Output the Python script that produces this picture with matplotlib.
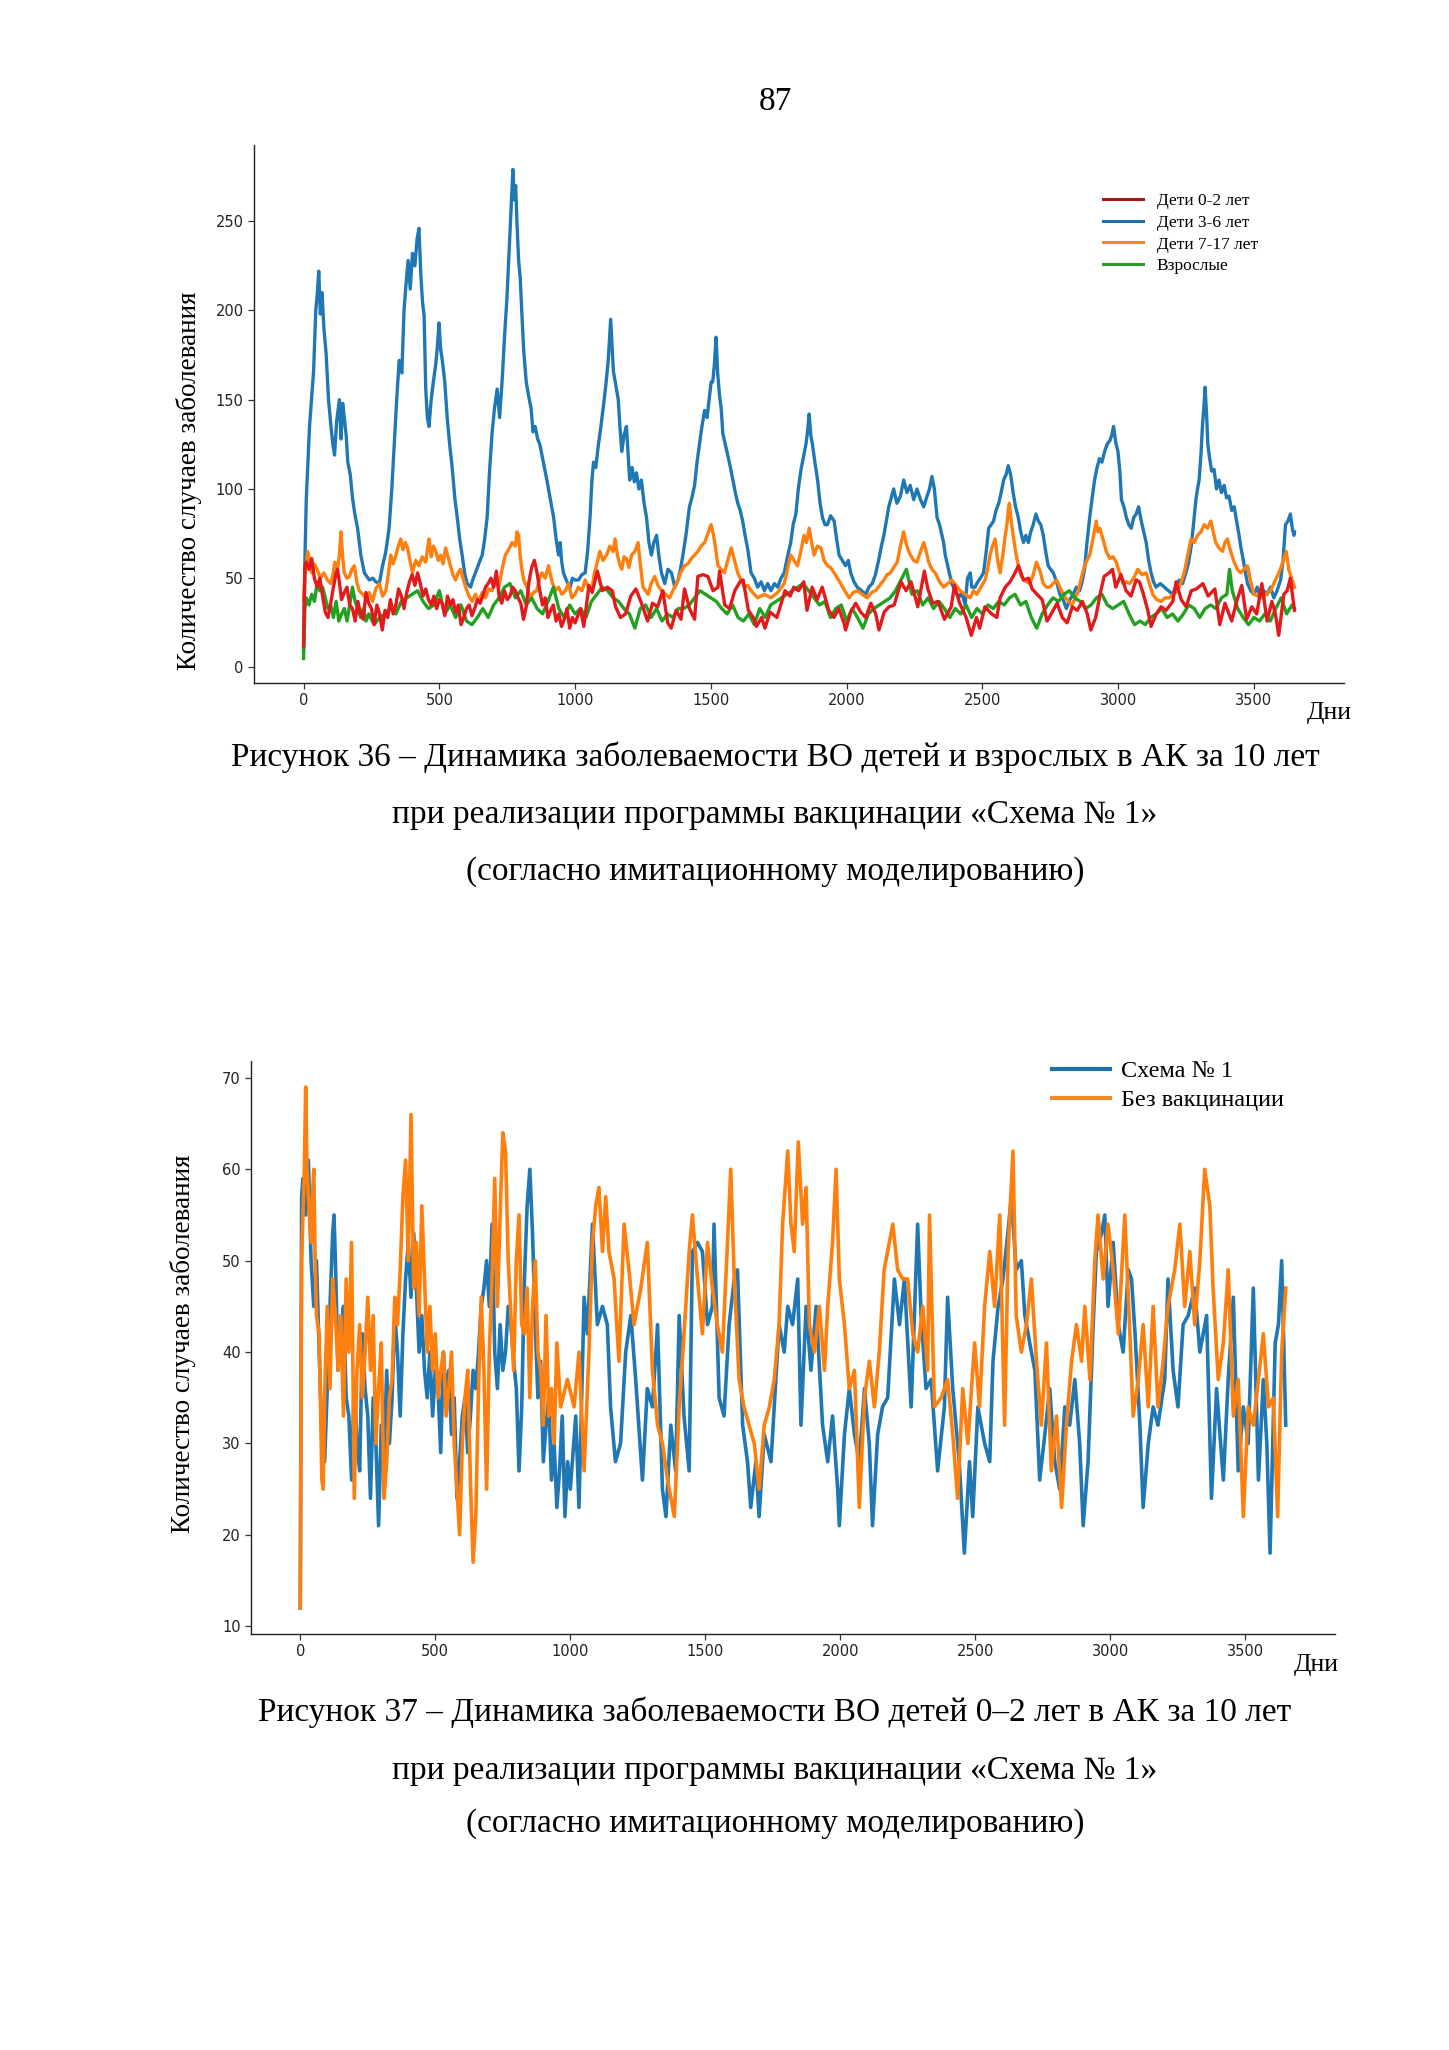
import matplotlib
matplotlib.use("Agg")
import matplotlib.pyplot as plt
from matplotlib.lines import Line2D

SERIF = "Liberation Serif"

# Дети 0-2 лет, схема № 1 (same series in both charts)
d_02 = [0, 5, 10, 20, 30, 40, 50, 60, 70, 80, 90, 100, 110, 120, 125, 130, 140, 150, 160, 170,
        180, 190, 200, 210, 220, 230, 240, 250, 260, 270, 280, 290, 300, 310, 320, 330, 340, 350,
        360, 370, 380, 390, 400, 410, 420, 430, 440, 450, 460, 470, 480, 490, 500, 510, 520, 530,
        540, 550, 560, 570, 580, 590, 600, 610, 620, 630, 640, 650, 660, 670, 680, 690, 700, 710,
        720, 730, 740, 750, 760, 770, 780, 790, 800, 810, 820, 830, 840, 850, 860, 870, 880, 890,
        900, 910, 920, 930, 940, 950, 960, 970, 980, 990, 1000, 1020, 1032, 1051, 1063, 1082,
        1100, 1119, 1137, 1149, 1167, 1186, 1205, 1224, 1242, 1267, 1285, 1304, 1323, 1341, 1354,
        1372, 1390, 1403, 1421, 1440, 1452, 1471, 1489, 1508, 1526, 1532, 1551, 1569, 1588, 1607,
        1619, 1638, 1656, 1668, 1687, 1699, 1718, 1743, 1755, 1773, 1792, 1805, 1823, 1842, 1854,
        1873, 1891, 1910, 1934, 1953, 1971, 1990, 1996, 2015, 2033, 2052, 2070, 2089, 2107, 2119,
        2138, 2156, 2175, 2200, 2219, 2237, 2262, 2280, 2286, 2299, 2317, 2336, 2360, 2385, 2397,
        2416, 2440, 2459, 2478, 2490, 2509, 2534, 2553, 2565, 2584, 2602, 2620, 2633, 2651, 2670,
        2683, 2701, 2720, 2738, 2757, 2775, 2794, 2812, 2831, 2849, 2868, 2886, 2899, 2917, 2936,
        2948, 2967, 2979, 2991, 3010, 3029, 3047, 3066, 3078, 3091, 3109, 3121, 3140, 3158, 3176,
        3201, 3213, 3232, 3250, 3269, 3288, 3312, 3331, 3356, 3374, 3393, 3418, 3436, 3455, 3473,
        3492, 3510, 3529, 3548, 3566, 3579, 3591, 3610, 3622, 3634, 3649]
v_02 = [12, 57, 59, 55, 61, 50, 45, 50, 40, 31, 28, 36, 45, 53, 55, 50, 38, 42, 45, 35,
        33, 26, 37, 30, 27, 42, 36, 33, 24, 35, 30, 21, 32, 28, 38, 30, 35, 44,
        40, 33, 42, 48, 52, 46, 53, 47, 40, 44, 38, 35, 40, 33, 38, 36, 29, 40,
        35, 38, 31, 35, 24, 28, 33, 35, 29, 33, 38, 36, 40, 45, 47, 50, 45, 54,
        40, 36, 43, 38, 40, 45, 43, 39, 36, 27, 34, 48, 56, 60, 53, 43, 35, 39,
        28, 32, 35, 26, 30, 23, 27, 33, 22, 28, 25, 33, 23, 46, 42, 54,
        43, 45, 43, 34, 28, 30, 40, 44, 37, 26, 36, 34, 43, 25, 22,
        32, 27, 44, 33, 27, 51, 52, 51, 43, 45, 54, 35, 33, 43, 48,
        49, 32, 28, 23, 28, 22, 31, 28, 34, 43, 40, 45, 43, 48, 32,
        45, 38, 45, 32, 28, 33, 25, 21, 31, 36, 31, 28, 36, 30, 21,
        31, 34, 35, 48, 43, 48, 34, 49, 54, 44, 36, 37, 27, 34, 46,
        36, 28, 18, 28, 22, 34, 30, 28, 39, 45, 48, 53, 57, 49, 50,
        44, 41, 38, 26, 31, 36, 28, 25, 34, 32, 37, 30, 21, 28, 43,
        51, 53, 55, 45, 52, 43, 40, 49, 48, 42, 32, 23, 30, 34, 32,
        37, 48, 38, 34, 43, 44, 47, 40, 44, 24, 36, 26, 37, 46, 27,
        34, 30, 47, 26, 37, 30, 18, 41, 43, 50, 32]

# Без вакцинации, дети 0-2 лет
d_novac = [0, 5, 10, 15, 20, 25, 30, 40, 45, 50, 55, 60, 70, 80, 85, 90, 100, 110, 120, 130,
           140, 150, 160, 170, 180, 190, 200, 210, 220, 230, 240, 250, 260, 270, 280, 290, 300,
           310, 320, 330, 340, 350, 360, 370, 380, 390, 400, 410, 420, 430, 440, 450, 460, 470,
           480, 490, 500, 510, 520, 530, 540, 550, 560, 570, 580, 590, 600, 610, 620, 630, 640,
           650, 660, 670, 680, 690, 700, 710, 720, 730, 740, 750, 760, 770, 780, 790, 800, 810,
           820, 830, 840, 850, 860, 870, 880, 890, 900, 910, 920, 930, 940, 950, 964, 989, 1014,
           1032, 1051, 1069, 1082, 1094, 1106, 1119, 1131, 1143, 1162, 1180, 1199, 1217, 1236,
           1261, 1285, 1304, 1323, 1341, 1360, 1385, 1403, 1421, 1440, 1452, 1471, 1489, 1508,
           1526, 1544, 1563, 1582, 1594, 1607, 1625, 1643, 1662, 1681, 1699, 1718, 1737, 1755,
           1773, 1786, 1805, 1817, 1829, 1844, 1860, 1873, 1885, 1904, 1922, 1941, 1953, 1971,
           1984, 1996, 2015, 2033, 2052, 2070, 2089, 2107, 2126, 2144, 2162, 2181, 2194, 2212,
           2231, 2249, 2268, 2286, 2305, 2323, 2330, 2348, 2373, 2397, 2416, 2434, 2453, 2472,
           2497, 2515, 2534, 2553, 2571, 2590, 2608, 2621, 2639, 2651, 2670, 2689, 2707, 2726,
           2744, 2763, 2781, 2800, 2819, 2837, 2856, 2874, 2893, 2905, 2924, 2942, 2954, 2973,
           2991, 3010, 3029, 3053, 3072, 3084, 3103, 3121, 3140, 3158, 3176, 3195, 3213, 3238,
           3257, 3275, 3294, 3312, 3331, 3349, 3368, 3380, 3399, 3418, 3436, 3455, 3473, 3492,
           3510, 3529, 3548, 3566, 3585, 3603, 3619, 3634, 3649]
v_novac = [12, 50, 55, 60, 69, 60, 57, 52, 57, 60, 50, 44, 42, 26, 25, 35, 45, 36, 48, 44,
           38, 44, 33, 48, 40, 52, 24, 38, 43, 35, 40, 46, 38, 44, 30, 36, 41,
           24, 28, 35, 37, 46, 43, 49, 57, 61, 50, 66, 47, 52, 44, 56, 48, 40,
           45, 38, 42, 35, 38, 40, 33, 36, 40, 30, 25, 20, 30, 35, 38, 26, 17,
           22, 36, 46, 38, 25, 40, 48, 59, 45, 55, 64, 62, 50, 44, 38, 50, 55,
           43, 42, 47, 35, 45, 50, 40, 38, 32, 44, 33, 36, 30, 41, 34, 37, 34,
           40, 27, 40, 52, 56, 58, 51, 57, 51, 48, 39, 54, 49, 43,
           47, 52, 38, 32, 30, 26, 22, 34, 42, 51, 55, 48, 42, 52,
           47, 43, 40, 52, 60, 48, 37, 34, 32, 30, 25, 32, 34, 37,
           43, 54, 62, 54, 51, 63, 54, 58, 43, 40, 45, 38, 45, 52,
           60, 48, 43, 36, 38, 23, 35, 39, 34, 40, 49, 52, 54, 49,
           48, 48, 42, 40, 45, 38, 55, 34, 35, 37, 31, 24, 36, 30,
           41, 34, 45, 51, 45, 55, 32, 51, 62, 44, 40, 43, 48, 39,
           32, 41, 27, 33, 23, 32, 39, 43, 39, 45, 37, 50, 55, 48,
           54, 49, 42, 55, 42, 33, 37, 43, 34, 45, 34, 39, 45, 49,
           54, 45, 51, 43, 50, 60, 56, 47, 37, 41, 49, 33, 37, 22,
           34, 32, 37, 42, 34, 35, 22, 40, 47]

# Дети 3-6 лет
d_36 = [0, 5, 10, 22, 37, 45, 50, 56, 62, 68, 75, 83, 92, 101, 108, 114, 122, 132, 138, 144,
        150, 157, 163, 172, 181, 190, 199, 211, 224, 242, 255, 266, 279, 291, 303, 315, 325, 334,
        343, 352, 362, 370, 377, 385, 393, 401, 410, 418, 425, 432, 438, 444, 450, 456, 462, 470,
        478, 487, 493, 499, 505, 511, 520, 529, 538, 548, 557, 566, 575, 584, 594, 603, 615, 625,
        633, 645, 658, 667, 676, 685, 694, 703, 713, 722, 731, 740, 749, 756, 762, 767, 771, 776,
        781, 786, 792, 798, 805, 811, 820, 829, 838, 845, 853, 862, 870, 878, 887, 896, 908, 921,
        930, 939, 945, 950, 957, 970, 982, 990, 1000, 1012, 1025, 1037, 1046, 1055, 1062, 1068,
        1076, 1086, 1095, 1104, 1113, 1122, 1127, 1131, 1136, 1141, 1150, 1159, 1165, 1172, 1180,
        1189, 1195, 1201, 1210, 1218, 1226, 1235, 1244, 1254, 1263, 1272, 1281, 1290, 1300, 1309,
        1318, 1330, 1342, 1355, 1367, 1379, 1388, 1397, 1409, 1421, 1430, 1440, 1449, 1458, 1467,
        1477, 1486, 1495, 1501, 1507, 1513, 1519, 1525, 1532, 1538, 1544, 1553, 1562, 1572, 1581,
        1590, 1599, 1608, 1617, 1626, 1636, 1648, 1660, 1672, 1685, 1697, 1709, 1721, 1734, 1746,
        1758, 1770, 1782, 1794, 1803, 1813, 1822, 1832, 1841, 1850, 1856, 1862, 1868, 1874, 1883,
        1893, 1902, 1911, 1920, 1929, 1941, 1954, 1963, 1972, 1984, 1996, 2006, 2015, 2027, 2039,
        2055, 2070, 2082, 2094, 2106, 2119, 2128, 2137, 2146, 2155, 2164, 2173, 2185, 2198, 2210,
        2222, 2234, 2247, 2259, 2272, 2284, 2296, 2305, 2314, 2323, 2333, 2342, 2351, 2357, 2363,
        2375, 2387, 2400, 2412, 2424, 2436, 2445, 2455, 2461, 2473, 2479, 2492, 2504, 2514, 2523,
        2532, 2541, 2550, 2560, 2569, 2578, 2587, 2595, 2604, 2613, 2622, 2632, 2641, 2651, 2660,
        2669, 2678, 2687, 2697, 2706, 2715, 2724, 2733, 2742, 2751, 2761, 2773, 2785, 2797, 2809,
        2822, 2834, 2846, 2858, 2867, 2876, 2885, 2895, 2904, 2913, 2922, 2931, 2940, 2950, 2959,
        2969, 2976, 2983, 2991, 2999, 3006, 3012, 3021, 3030, 3039, 3048, 3057, 3066, 3075, 3085,
        3094, 3103, 3112, 3121, 3130, 3139, 3155, 3170, 3185, 3200, 3212, 3225, 3237, 3249, 3258,
        3268, 3277, 3286, 3292, 3298, 3305, 3310, 3315, 3320, 3326, 3330, 3335, 3344, 3353, 3362,
        3371, 3380, 3390, 3399, 3408, 3418, 3427, 3436, 3445, 3451, 3457, 3467, 3476, 3488, 3500,
        3512, 3524, 3536, 3549, 3561, 3573, 3585, 3598, 3607, 3616, 3625, 3634, 3641, 3647, 3649]
v_36 = [10, 60, 94, 135, 166, 200, 208, 222, 198, 210, 190, 176, 150, 135, 125, 119, 138, 150, 128, 148,
        140, 130, 115, 108, 94, 85, 78, 63, 53, 49, 50, 48, 47, 57, 65, 78, 100, 125,
        150, 172, 165, 200, 214, 228, 212, 232, 225, 240, 246, 220, 205, 197, 156, 140, 135, 150,
        160, 170, 180, 193, 178, 172, 160, 140, 125, 111, 95, 84, 72, 63, 52, 47, 45, 50,
        53, 58, 63, 72, 84, 110, 131, 145, 156, 140, 160, 185, 207, 230, 249, 265, 279, 262,
        270, 249, 228, 218, 195, 177, 160, 152, 145, 132, 135, 128, 125, 119, 112, 105, 95, 84,
        72, 63, 70, 60, 53, 48, 45, 50, 49, 49, 52, 53, 65, 84, 105, 115,
        112, 125, 135, 146, 158, 172, 185, 195, 180, 166, 158, 150, 135, 121, 130,
        135, 120, 105, 112, 104, 109, 100, 105, 92, 84, 70, 63, 70, 74, 62,
        53, 47, 55, 53, 45, 49, 55, 63, 75, 90, 95, 102, 115, 125, 135,
        144, 140, 152, 160, 160, 170, 185, 165, 152, 145, 131, 125, 119, 112, 105,
        98, 92, 88, 82, 74, 66, 53, 50, 45, 48, 43, 47, 43, 47, 45,
        50, 53, 62, 70, 80, 86, 100, 111, 118, 125, 132, 142, 130, 125, 115,
        105, 92, 84, 80, 80, 85, 82, 72, 63, 60, 57, 60, 53, 48, 45,
        43, 41, 45, 47, 52, 61, 68, 74, 82, 90, 95, 100, 92, 96, 105,
        98, 102, 94, 100, 94, 90, 96, 100, 107, 100, 84, 80, 74, 70, 63,
        55, 47, 43, 39, 42, 35, 50, 53, 45, 45, 47, 50, 53, 65, 78,
        80, 82, 88, 92, 98, 105, 108, 113, 108, 98, 90, 84, 76, 70, 74,
        70, 76, 80, 86, 82, 80, 74, 65, 57, 55, 53, 48, 41, 38, 33,
        38, 41, 45, 43, 48, 55, 70, 84, 95, 105, 112, 117, 115, 121, 125,
        127, 130, 135, 126, 121, 110, 94, 90, 84, 80, 78, 84, 86, 90, 82,
        76, 70, 60, 53, 48, 45, 47, 45, 43, 41, 45, 49, 47, 53, 58,
        67, 80, 94, 100, 105, 120, 135, 145, 157, 140, 125, 119, 110, 111, 100,
        105, 98, 102, 95, 96, 88, 90, 82, 74, 68, 63, 55, 47, 43, 41,
        45, 39, 43, 41, 45, 39, 43, 49, 60, 80, 82, 86, 78, 74, 76]

# Дети 7-17 лет
d_717 = [0, 5, 15, 22, 30, 40, 50, 62, 75, 88, 100, 108, 115, 125, 132, 138, 144, 150, 160, 169,
         178, 187, 196, 205, 218, 230, 242, 254, 266, 279, 291, 303, 312, 321, 330, 340, 349, 358,
         366, 375, 383, 392, 401, 413, 425, 437, 450, 456, 462, 470, 478, 487, 496, 505, 514, 523,
         532, 541, 550, 560, 569, 578, 587, 597, 609, 621, 633, 645, 658, 670, 682, 694, 706, 719,
         731, 743, 755, 768, 780, 786, 792, 798, 804, 811, 823, 835, 847, 859, 869, 878, 890, 902,
         915, 927, 939, 951, 964, 976, 988, 1000, 1012, 1025, 1037, 1049, 1061, 1070, 1080, 1091,
         1103, 1116, 1128, 1140, 1147, 1156, 1164, 1172, 1180, 1189, 1198, 1208, 1220, 1232, 1240,
         1250, 1260, 1269, 1280, 1293, 1305, 1318, 1333, 1348, 1363, 1379, 1391, 1403, 1415, 1428,
         1440, 1452, 1464, 1477, 1489, 1501, 1510, 1518, 1526, 1538, 1550, 1562, 1575, 1587, 1599,
         1611, 1623, 1636, 1648, 1660, 1672, 1697, 1721, 1746, 1770, 1782, 1794, 1806, 1819, 1831,
         1843, 1852, 1862, 1871, 1880, 1892, 1905, 1917, 1929, 1941, 1954, 1966, 1978, 1993, 2009,
         2024, 2039, 2057, 2076, 2091, 2106, 2122, 2137, 2149, 2161, 2173, 2186, 2198, 2210, 2218,
         2226, 2235, 2247, 2259, 2272, 2284, 2293, 2302, 2314, 2326, 2342, 2357, 2372, 2387, 2403,
         2418, 2436, 2455, 2467, 2479, 2494, 2510, 2519, 2528, 2537, 2547, 2556, 2565, 2575, 2584,
         2590, 2595, 2599, 2606, 2613, 2622, 2632, 2641, 2651, 2663, 2675, 2687, 2699, 2712, 2724,
         2736, 2748, 2760, 2773, 2785, 2797, 2812, 2828, 2840, 2853, 2864, 2876, 2885, 2895, 2907,
         2919, 2925, 2932, 2944, 2956, 2969, 2981, 2993, 3005, 3018, 3030, 3042, 3057, 3072, 3087,
         3103, 3115, 3127, 3142, 3158, 3173, 3188, 3203, 3218, 3230, 3243, 3255, 3268, 3280, 3292,
         3305, 3317, 3329, 3341, 3350, 3359, 3371, 3384, 3393, 3402, 3414, 3427, 3439, 3451, 3463,
         3476, 3488, 3500, 3515, 3530, 3545, 3561, 3573, 3585, 3597, 3610, 3619, 3628, 3638, 3649]
v_717 = [38, 50, 65, 60, 53, 58, 55, 50, 53, 49, 47, 52, 59, 55, 63, 76, 62, 53, 50, 51,
         55, 57, 48, 43, 41, 39, 42, 37, 44, 47, 40, 43, 52, 63, 58, 63, 68, 72,
         66, 70, 67, 60, 53, 60, 57, 62, 59, 66, 72, 62, 68, 65, 60, 63, 58, 67,
         62, 57, 52, 49, 53, 55, 50, 45, 40, 37, 41, 37, 42, 39, 44, 43, 48, 45,
         55, 63, 66, 70, 68, 76, 74, 62, 55, 49, 45, 39, 42, 43, 50, 53, 50, 57,
         48, 43, 45, 41, 43, 47, 39, 41, 45, 43, 49, 45, 43, 52, 58, 65,
         60, 63, 68, 65, 72, 63, 58, 55, 62, 61, 56, 63, 65, 70, 58,
         45, 43, 41, 47, 51, 46, 43, 41, 39, 44, 49, 54, 57, 58, 61,
         63, 65, 68, 70, 75, 80, 74, 66, 57, 55, 53, 60, 67, 60, 53,
         49, 45, 46, 43, 41, 39, 41, 39, 42, 47, 55, 63, 60, 57, 65,
         74, 70, 78, 70, 63, 68, 67, 60, 57, 56, 53, 50, 47, 43, 39,
         42, 43, 41, 39, 42, 43, 46, 49, 52, 53, 56, 59, 68, 76, 70,
         66, 63, 60, 59, 65, 70, 65, 59, 55, 53, 48, 45, 47, 49, 46,
         43, 41, 39, 43, 41, 45, 49, 55, 63, 68, 72, 60, 53, 63, 74,
         80, 88, 92, 82, 74, 65, 57, 52, 49, 48, 47, 52, 59, 54, 47,
         45, 45, 47, 49, 45, 41, 38, 35, 38, 43, 50, 57, 60, 63, 72,
         82, 76, 78, 72, 65, 61, 62, 59, 53, 47, 48, 47, 50, 55, 52,
         53, 47, 41, 38, 37, 39, 39, 41, 43, 47, 53, 62, 72, 70, 74,
         76, 80, 78, 82, 76, 70, 67, 65, 70, 72, 65, 59, 55, 53, 55,
         57, 48, 41, 40, 39, 41, 43, 47, 51, 55, 61, 65, 55, 50, 45]

# Взрослые
d_adult = [0, 5, 10, 20, 30, 40, 50, 60, 70, 80, 90, 100, 110, 120, 130, 140, 150, 160, 170, 180,
           190, 200, 210, 220, 230, 240, 260, 280, 300, 320, 340, 360, 380, 400, 420, 440, 460,
           480, 500, 520, 540, 560, 580, 600, 620, 640, 660, 680, 700, 720, 740, 760, 780, 800,
           820, 840, 860, 880, 900, 920, 940, 960, 980, 1000, 1020, 1040, 1060, 1080, 1100, 1120,
           1140, 1160, 1180, 1200, 1220, 1240, 1260, 1280, 1300, 1320, 1340, 1360, 1380, 1400,
           1420, 1440, 1460, 1480, 1500, 1520, 1540, 1560, 1580, 1600, 1620, 1640, 1660, 1680,
           1700, 1720, 1740, 1760, 1780, 1800, 1820, 1840, 1860, 1880, 1900, 1920, 1940, 1960,
           1980, 2000, 2020, 2040, 2060, 2080, 2100, 2120, 2140, 2160, 2180, 2200, 2220, 2240,
           2260, 2280, 2300, 2320, 2340, 2360, 2380, 2400, 2420, 2440, 2460, 2480, 2500, 2520,
           2540, 2560, 2580, 2600, 2620, 2640, 2660, 2680, 2700, 2720, 2740, 2760, 2780, 2800,
           2820, 2840, 2860, 2880, 2900, 2920, 2940, 2960, 2980, 3000, 3020, 3040, 3060, 3080,
           3100, 3120, 3140, 3160, 3180, 3200, 3220, 3240, 3260, 3280, 3300, 3320, 3340, 3360,
           3380, 3400, 3410, 3420, 3440, 3460, 3480, 3500, 3520, 3540, 3560, 3580, 3600, 3620,
           3640, 3649]
v_adult = [5, 33, 39, 35, 41, 37, 47, 43, 45, 39, 33, 35, 28, 37, 26, 30, 33, 26, 35, 45,
           37, 33, 28, 33, 26, 30, 24, 28, 30, 33, 30, 37, 39, 41, 43, 37, 33,
           35, 43, 30, 35, 28, 35, 26, 24, 28, 33, 28, 35, 39, 45, 47, 39, 43,
           35, 39, 33, 30, 37, 45, 33, 28, 35, 30, 33, 28, 37, 41, 45, 43,
           39, 37, 33, 30, 22, 33, 35, 28, 33, 26, 30, 28, 33, 33,
           35, 39, 43, 41, 39, 37, 33, 30, 35, 28, 26, 30, 24, 33,
           28, 35, 37, 39, 41, 43, 45, 47, 43, 39, 35, 37, 28, 33,
           35, 26, 33, 28, 22, 30, 33, 35, 37, 39, 43, 49, 55, 41,
           43, 35, 39, 33, 37, 33, 28, 33, 30, 35, 28, 33, 30, 35,
           33, 37, 35, 39, 41, 35, 37, 28, 22, 30, 35, 39, 37, 41,
           43, 39, 37, 33, 35, 39, 41, 35, 33, 35, 37, 30, 24, 26,
           24, 28, 30, 33, 28, 30, 26, 30, 35, 33, 28, 33, 35, 33,
           39, 41, 55, 43, 33, 28, 24, 28, 26, 30, 26, 33, 39, 30,
           35, 33]

labels_top = ["Дети 0-2 лет", "Дети 3-6 лет", "Дети 7-17 лет", "Взрослые"]
labels_bottom = ["Схема № 1", "Без вакцинации"]

W, H = 1449, 2050
fig = plt.figure(figsize=(W / 100, H / 100), dpi=100)


def fx(px):
    return px / W


def fy(py):
    return 1 - py / H


def style_axes(ax, size):
    ax.spines["top"].set_visible(False)
    ax.spines["right"].set_visible(False)
    for s in ["left", "bottom"]:
        ax.spines[s].set_linewidth(1.0)
        ax.spines[s].set_color("#222222")
    ax.tick_params(labelsize=size, length=4, width=0.9, color="#333333", labelcolor="#222222")
    ax.set_xticks(range(0, 3501, 500))


# --- Рисунок 36 ---
ax1 = fig.add_axes([fx(254), fy(683), fx(1344 - 254), (683 - 145) / H])
ax1.plot(d_36, v_36, color="#1f77b4", lw=2.4)
ax1.plot(d_717, v_717, color="#ff7f0e", lw=2.4)
ax1.plot(d_adult, v_adult, color="#22a022", lw=2.4)
ax1.plot(d_02, v_02, color="#e31a1c", lw=2.4)
ax1.set_yticks(range(0, 251, 50))
style_axes(ax1, 10.5)

h_top = [Line2D([], [], color=c, lw=2.2) for c in ["#a01818", "#1f6fa8", "#e88a30", "#2a9a2a"]]
fig.legend(h_top, labels_top, loc="upper left", bbox_to_anchor=(fx(1103), fy(193)),
           frameon=False, borderpad=0, borderaxespad=0, handlelength=2.3, handletextpad=0.8,
           labelspacing=0.32, prop={"family": SERIF, "size": 12.5})

fig.text(fx(189), fy(481), "Количество случаев заболевания", rotation=90, ha="center",
         va="center", family=SERIF, fontsize=19.5)
fig.text(fx(1329), fy(713), "Дни", ha="center", va="center", family=SERIF, fontsize=18.5)

# --- Рисунок 37 ---
ax2 = fig.add_axes([fx(251), fy(1634), fx(1335 - 251), (1634 - 1061) / H])
ax2.plot(d_02, v_02, color="#1f77b4", lw=2.6)
ax2.plot(d_novac, v_novac, color="#ff7f0e", lw=2.6)
ax2.set_yticks(range(10, 71, 10))
style_axes(ax2, 10.5)

h_bot = [Line2D([], [], color=c, lw=3.0) for c in ["#1f6fa8", "#f08a2a"]]
fig.legend(h_bot, labels_bottom, loc="upper left", bbox_to_anchor=(fx(1052), fy(1060)),
           frameon=False, borderpad=0, borderaxespad=0, handlelength=2.4, handletextpad=0.45,
           labelspacing=0.3, prop={"family": SERIF, "size": 17.5})

fig.text(fx(183), fy(1344), "Количество случаев заболевания", rotation=90, ha="center",
         va="center", family=SERIF, fontsize=19.5)
fig.text(fx(1316), fy(1665), "Дни", ha="center", va="center", family=SERIF, fontsize=18.5)

# page number and captions
fig.text(fx(775), fy(102), "87", ha="center", va="center", family=SERIF, fontsize=24)

cap36 = ["Рисунок 36 – Динамика заболеваемости ВО детей и взрослых в АК за 10 лет",
         "при реализации программы вакцинации «Схема № 1»",
         "(согласно имитационному моделированию)"]
cap37 = ["Рисунок 37 – Динамика заболеваемости ВО детей 0–2 лет в АК за 10 лет",
         "при реализации программы вакцинации «Схема № 1»",
         "(согласно имитационному моделированию)"]
for line, y in zip(cap36, [757, 815, 872]):
    fig.text(fx(775), fy(y), line, ha="center", va="center", family=SERIF, fontsize=24)
for line, y in zip(cap37, [1712, 1771, 1824]):
    fig.text(fx(775), fy(y), line, ha="center", va="center", family=SERIF, fontsize=24)

fig.savefig("out.png", dpi=100)
